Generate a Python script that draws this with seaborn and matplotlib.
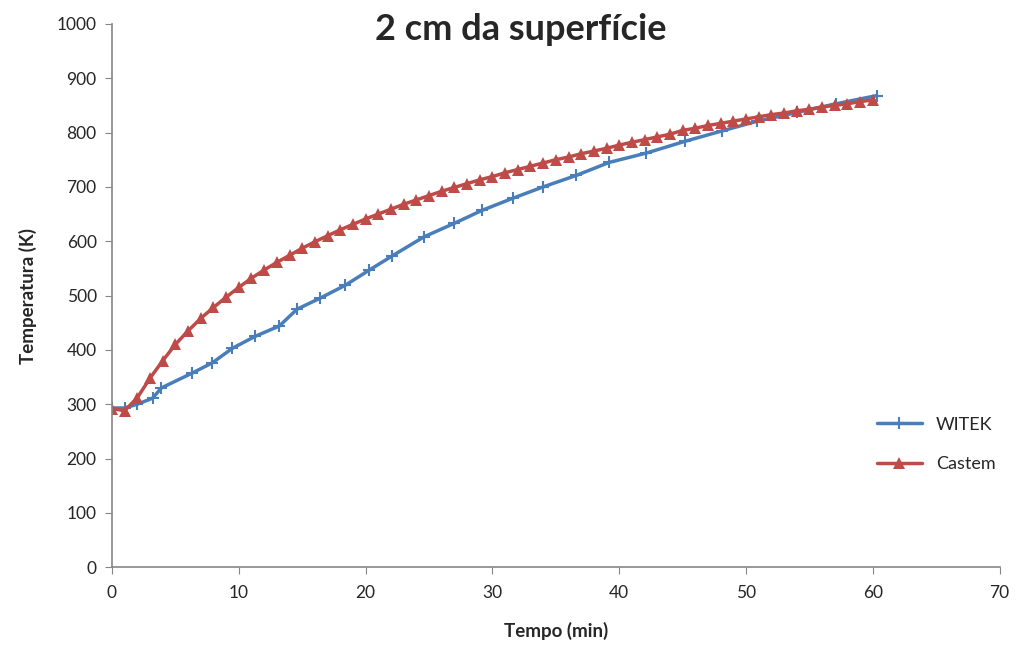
import numpy as np
import pandas as pd
import matplotlib
matplotlib.use('Agg')
import matplotlib.pyplot as plt
import seaborn as sns

# Dados
tempo_witek = [0, 1, 2, 3.2, 3.9, 6.3, 7.9, 9.5, 11.3, 13.2, 14.6, 16.4, 18.4,
               20.3, 22.1, 24.6, 27.0, 29.2, 31.6, 34.0, 36.6, 39.2, 42.1,
               45.2, 48.1, 50.9, 54.0, 57.1, 60.3]
temp_witek = [293, 293, 300, 311, 330, 357, 376, 403, 425, 444, 475, 495, 519,
              547, 573, 608, 633, 657, 679, 700, 721, 745, 762, 784, 803,
              821, 837, 853, 868]

tempo_castem = list(range(0, 61))
temp_castem = [292, 288, 312, 348, 380, 410, 435, 458, 478, 497,
               515, 532, 547, 561, 574, 587, 599, 610, 621, 631,
               641, 650, 659, 668, 676, 684, 692, 699, 706, 713,
               719, 726, 732, 738, 744, 750, 755, 761, 766, 771,
               777, 782, 787, 792, 797, 804, 808, 813, 817, 821,
               825, 829, 833, 836, 840, 843, 847, 850, 853, 857, 860]

sns.set_style('white')
plt.rcParams['font.family'] = ['Lato', 'DejaVu Sans']

fig = plt.figure(figsize=(10.18, 6.46), dpi=100)
ax = fig.add_axes([0.110, 0.122, 0.872, 0.841])

df_w = pd.DataFrame({'t': tempo_witek, 'T': temp_witek})
df_c = pd.DataFrame({'t': tempo_castem, 'T': temp_castem})

sns.lineplot(data=df_w, x='t', y='T', ax=ax, color='#4A7EBB', linewidth=2.5,
             marker='+', markersize=9, markeredgewidth=1.5,
             markeredgecolor='#4A7EBB', label='WITEK')
sns.lineplot(data=df_c, x='t', y='T', ax=ax, color='#BE4B48', linewidth=2.5,
             marker='^', markersize=8, markeredgewidth=0,
             markerfacecolor='#BE4B48', label='Castem')

ax.set_xlim(0, 70)
ax.set_ylim(0, 1000)
ax.set_xticks(range(0, 71, 10))
ax.set_yticks(range(0, 1001, 100))
ax.tick_params(axis='both', labelsize=12.5, length=5, color='#868686',
               direction='out', bottom=True, left=True)
ax.tick_params(axis='x', pad=8)
ax.tick_params(axis='y', pad=6)
for s in ['top', 'right']:
    ax.spines[s].set_visible(False)
for s in ['left', 'bottom']:
    ax.spines[s].set_color('#868686')
    ax.spines[s].set_linewidth(1.2)

ax.set_xlabel('Tempo (min)', fontsize=13.5, fontweight='bold', labelpad=15)
ax.set_ylabel('Temperatura (K)', fontsize=13.5, fontweight='bold', labelpad=14)
fig.text(0.512, 0.955, '2 cm da superfície', ha='center', va='center',
         fontsize=26, fontweight='bold')

leg = ax.legend(loc='center left', bbox_to_anchor=(0.843, 0.226), frameon=False,
                fontsize=13, handlelength=2.5, labelspacing=1.3)

fig.savefig('out.png', dpi=100)
